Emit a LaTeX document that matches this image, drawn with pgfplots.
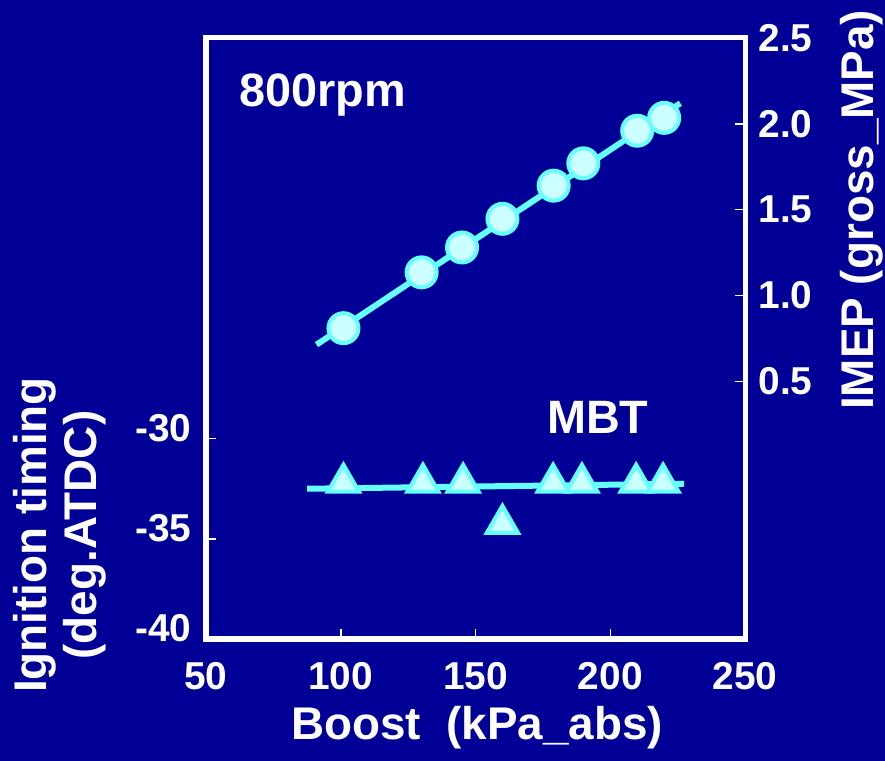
\documentclass[border=0pt]{standalone}
\usepackage{fontspec}
\setmainfont{Liberation Sans}
\usepackage{pgfplots}
\pgfplotsset{compat=1.18}
\definecolor{bgnavy}{HTML}{000096}
\definecolor{cyanline}{HTML}{66FFFF}
\definecolor{cyanfill}{HTML}{CCFFFF}

\begin{document}
\begin{tikzpicture}
\fill[bgnavy] (0,0) rectangle (885bp,761bp);
\pgfplotsset{
  common/.style={
    at={(206bp,122bp)}, anchor=south west,
    scale only axis, width=539bp, height=601bp,
    xmin=50, xmax=250,
    clip=false,
    axis line style={white, line width=5bp},
    major tick style={white, line width=1.5bp},
    major tick length=10bp,
    tick align=inside,
    tick label style={white, font=\fontsize{39}{39}\selectfont\bfseries},
    /pgf/number format/assume math mode=true,
    label style={white, font=\fontsize{46}{50}\selectfont\bfseries},
  },
  fitline/.style={cyanline, line width=6bp, no marks},
}
% ignition timing (left axis)
\begin{axis}[common,
  ymin=-40, ymax=-10,
  xtick={50,100,150,200,250},
  xticklabels={50,100,150,200,250},
  ytick={-40,-35,-30},
  yticklabels={-40,-35,-30},
  xtick pos=bottom, ytick pos=left,
  xticklabel style={yshift=-20bp},
  yticklabel style={xshift=-11bp, yshift=11bp},
  xlabel={Boost\ \ (kPa\_abs)},
  xlabel style={at={(rel axis cs:0.503,-0.148)}, anchor=center},
  ylabel={Ignition timing\\(deg.ATDC)},
  ylabel style={align=center, at={(rel axis cs:-0.271,0.173)}, anchor=center},
]
\addplot[fitline] coordinates {(87.5,-32.5) (227.4,-32.25)};
\addplot[only marks, mark=triangle*, mark size=18bp,
  mark options={fill=cyanfill, draw=cyanline, line width=4bp}]
  coordinates {(101,-32.2) (130.5,-32.2) (145.4,-32.2) (160,-34.25)
               (178.8,-32.2) (189.5,-32.2) (209.6,-32.2) (219.6,-32.2)};
\node[white, font=\fontsize{47}{47}\selectfont\bfseries] at (rel axis cs:0.217,0.905) {800rpm};
\node[white, font=\fontsize{47}{47}\selectfont\bfseries] at (rel axis cs:0.727,0.368) {MBT};
\end{axis}
% IMEP (right axis)
\begin{axis}[common,
  ymin=-1, ymax=2.5,
  axis x line=none, axis y line*=right,
  ytick={0.5,1,1.5,2,2.5},
  yticklabels={0.5,1.0,1.5,2.0,2.5},
  yticklabel style={xshift=10bp},
  ylabel={IMEP (gross\_MPa)},
  ylabel style={at={(rel axis cs:1.217,0.714)}, anchor=center},
]
\addplot[fitline] coordinates {(91,0.714) (226,2.12)};
\addplot[only marks, mark=*, mark size=15bp,
  mark options={fill=cyanfill, draw=cyanline, line width=4bp}]
  coordinates {(101,0.81) (130,1.135) (145,1.28) (160,1.447)
               (179,1.64) (190,1.77) (210,1.96) (220,2.035)};
\end{axis}
\pgfresetboundingbox
\path[use as bounding box] (0,0) rectangle (885bp,761bp);
\end{tikzpicture}
\end{document}
